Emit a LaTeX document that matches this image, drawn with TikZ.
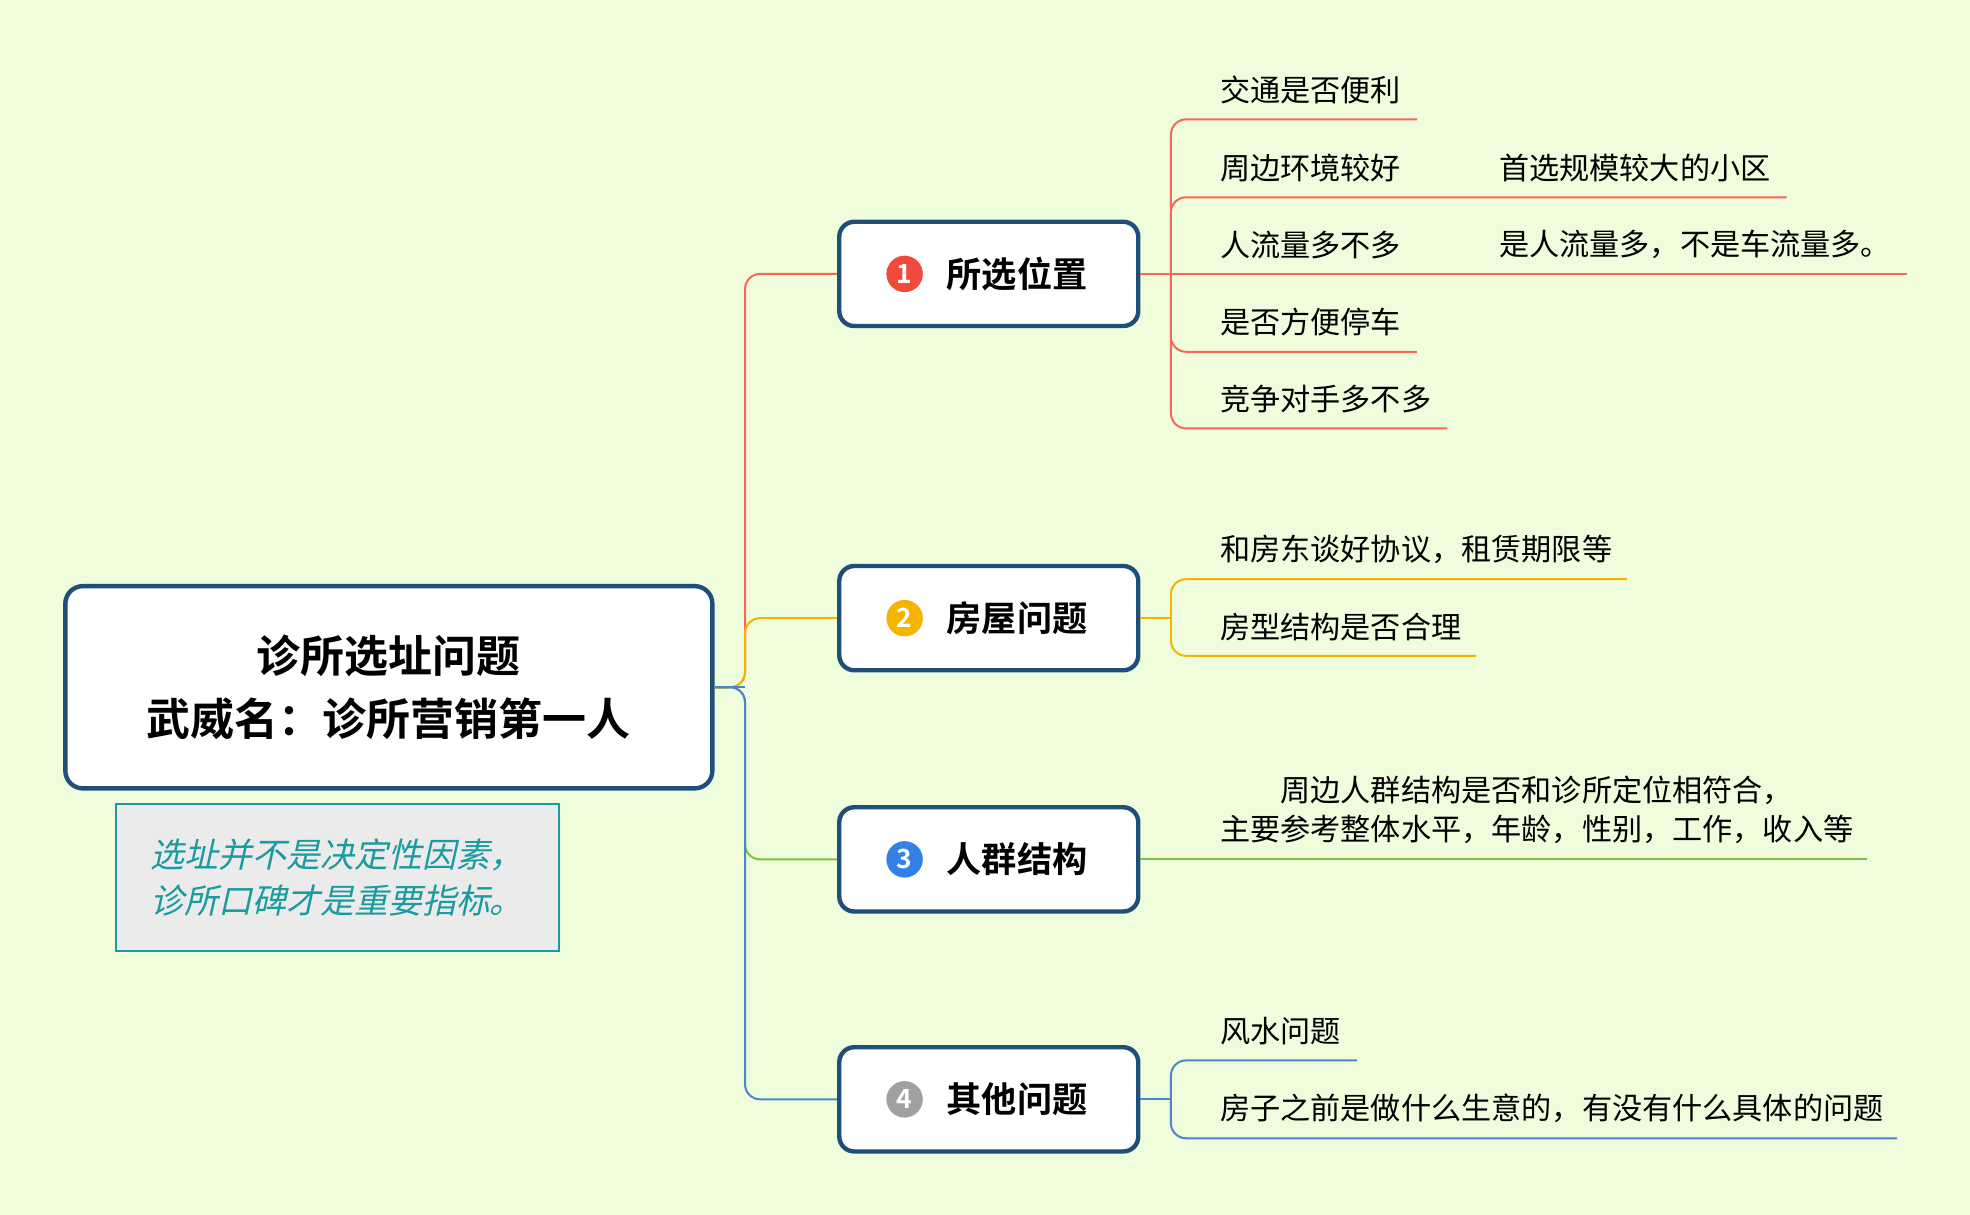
\documentclass[tikz,border=0pt]{standalone}
\usepackage{fontspec}
\setmainfont{Noto Sans CJK SC}
\newfontfamily\cjkbold{Noto Sans CJK SC Bold}
\newfontfamily\cjkslant[FakeSlant=0.22]{Noto Sans CJK SC}
\usetikzlibrary{positioning}

\definecolor{bgcol}{RGB}{240,253,220}
\definecolor{boxline}{RGB}{31,78,121}
\definecolor{cred}{RGB}{248,104,84}
\definecolor{corange}{RGB}{245,180,0}
\definecolor{cgreen}{RGB}{122,193,67}
\definecolor{cblue}{RGB}{74,134,200}
\definecolor{nred}{RGB}{240,74,60}
\definecolor{nblue}{RGB}{50,130,230}
\definecolor{ngray}{RGB}{160,160,160}
\definecolor{teal}{RGB}{26,155,160}
\definecolor{notebg}{RGB}{235,235,235}

\tikzset{
  topic/.style={draw=boxline,line width=3.5pt,fill=white,rounded corners=12pt,
    minimum width=238pt,minimum height=83pt},
  numdot/.style={circle,fill=#1,inner sep=0pt,minimum size=29pt,text=white,
    font=\cjkbold\fontsize{21}{21}\selectfont},
  leaf/.style={anchor=south west,inner sep=0pt,yshift=12pt,
    font=\fontsize{24}{24}\selectfont},
  link/.style={line width=1.6pt,rounded corners=12pt}
}

\begin{document}
\begin{tikzpicture}[x=1pt,y=-1pt]
  \fill[bgcol] (0,0) rectangle (1568,967);
  \useasboundingbox (0,0) rectangle (1568,967);

  % central topic
  \node[draw=boxline,line width=3.5pt,fill=white,rounded corners=14pt,
    minimum width=515pt,minimum height=161pt,align=center,
    font=\cjkbold\fontsize{35}{50}\selectfont] (root) at (309.5,547)
    {诊所选址问题\\武威名：诊所营销第一人};
  \node[draw=teal,line width=1.5pt,fill=notebg,minimum width=353pt,minimum height=117pt,
    text=teal,align=left,font=\cjkslant\fontsize{27}{37}\selectfont] (note) at (268.5,698.5)
    {选址并不是决定性因素，\\诊所口碑才是重要指标。};

  % main branches
  \node[topic] (t1) at (787,218) {};
  \node[topic] (t2) at (787,492) {};
  \node[topic] (t3) at (787,684) {};
  \node[topic] (t4) at (787,875) {};
  \node[numdot=nred]   (d1) at (720,218) {1};
  \node[numdot=corange] (d2) at (720,492) {2};
  \node[numdot=nblue]  (d3) at (720,684) {3};
  \node[numdot=ngray]  (d4) at (720,875) {4};
  \node[font=\cjkbold\fontsize{28}{28}\selectfont,anchor=west] (l1) at (750,218) {所选位置};
  \node[font=\cjkbold\fontsize{28}{28}\selectfont,anchor=west] (l2) at (750,492) {房屋问题};
  \node[font=\cjkbold\fontsize{28}{28}\selectfont,anchor=west] (l3) at (750,684) {人群结构};
  \node[font=\cjkbold\fontsize{28}{28}\selectfont,anchor=west] (l4) at (750,875) {其他问题};

  \draw[link,cred] (root.east) -- (593,547) |- (t1.west);
  \draw[link,corange] (root.east) -- (593,547) |- (t2.west);
  \draw[link,cgreen] (root.east) -- (593,547) |- (t3.west);
  \draw[link,cblue] (root.east) -- (593,547) |- (t4.west);
  \draw[link,cblue] (root.east) -- (593,547);

  % branch 1
  \coordinate (e11) at (1128,95);
  \coordinate (e12) at (1128,157);
  \coordinate (e13) at (1128,218);
  \coordinate (e14) at (1128,280);
  \coordinate (e15) at (1152,341);
  \coordinate (f12) at (1422,157);
  \coordinate (f13) at (1518,218);
  \node[leaf] (a11) at (971,95) {交通是否便利};
  \node[leaf] (a12) at (971,157) {周边环境较好};
  \node[leaf] (a13) at (971,218) {人流量多不多};
  \node[leaf] (a14) at (971,280) {是否方便停车};
  \node[leaf] (a15) at (971,341) {竞争对手多不多};
  \node[leaf] (b12) at (1193,157) {首选规模较大的小区};
  \node[leaf] (b13) at (1193,218) {是人流量多，不是车流量多。};
  \draw[link,cred] (t1.east) -- (e13) -- (f13);
  \draw[link,cred] (932,218) |- (e11);
  \draw[link,cred] (932,218) |- (e12) -- (f12);
  \draw[link,cred] (932,218) |- (e14);
  \draw[link,cred] (932,218) |- (e15);

  % branch 2
  \coordinate (e21) at (1295,461);
  \coordinate (e22) at (1175,522);
  \node[leaf] (a21) at (971,461) {和房东谈好协议，租赁期限等};
  \node[leaf] (a22) at (971,522) {房型结构是否合理};
  \draw[link,corange] (t2.east) -- (932,492);
  \draw[link,corange] (932,492) |- (e21);
  \draw[link,corange] (932,492) |- (e22);

  % branch 3
  \coordinate (e31) at (1486,684);
  \node[leaf,align=left,font=\fontsize{24}{31}\selectfont] (a31) at (971,684)
    {\hspace*{48pt}周边人群结构是否和诊所定位相符合，\\主要参考整体水平，年龄，性别，工作，收入等};
  \draw[link,cgreen] (t3.east) -- (e31);

  % branch 4
  \coordinate (e41) at (1080,844);
  \coordinate (e42) at (1510,906);
  \node[leaf] (a41) at (971,844) {风水问题};
  \node[leaf] (a42) at (971,906) {房子之前是做什么生意的，有没有什么具体的问题};
  \draw[link,cblue] (t4.east) -- (932,875);
  \draw[link,cblue] (932,875) |- (e41);
  \draw[link,cblue] (932,875) |- (e42);
\end{tikzpicture}
\end{document}
